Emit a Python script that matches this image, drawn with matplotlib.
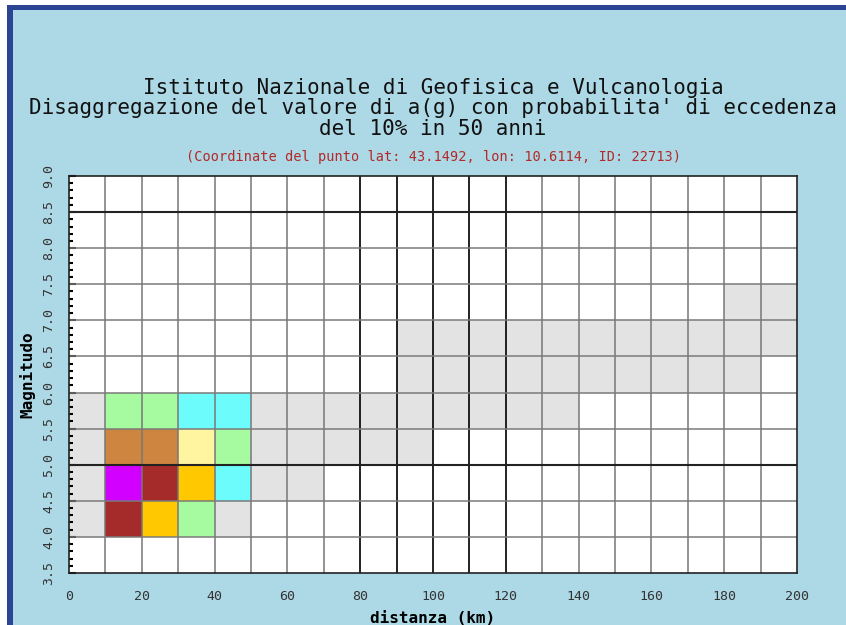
import matplotlib.pyplot as plt
from matplotlib.patches import Rectangle
from matplotlib.ticker import MultipleLocator

# grey (low contribution) band per magnitude row: distance start / end
grey_mag = [4.0, 4.5, 5.0, 5.5, 6.0, 6.5, 7.0]
grey_from = [0, 0, 0, 0, 90, 90, 180]
grey_to = [50, 70, 100, 140, 190, 200, 200]

# coloured cells (lower-left corner of each 10 km x 0.5 bin)
cell_dist = [10, 20, 30,
             10, 20, 30, 40,
             10, 20, 30, 40,
             10, 20, 30, 40]
cell_mag = [4.0, 4.0, 4.0,
            4.5, 4.5, 4.5, 4.5,
            5.0, 5.0, 5.0, 5.0,
            5.5, 5.5, 5.5, 5.5]
cell_color = ['#a52a2a', '#ffc800', '#a6fba0',
              '#d200ff', '#a52a2a', '#ffc800', '#6cfcfc',
              '#cd853f', '#cd853f', '#fff5a0', '#a6fba0',
              '#a6fba0', '#a6fba0', '#6cfcfc', '#6cfcfc']

x_ticks = list(range(0, 201, 20))
y_ticks = [3.5, 4.0, 4.5, 5.0, 5.5, 6.0, 6.5, 7.0, 7.5, 8.0, 8.5, 9.0]

mono = 'DejaVu Sans Mono'
bg = '#add8e6'

fig = plt.figure(figsize=(8.46, 6.25), dpi=100, facecolor=bg)

# dark blue frame on top / left like the web page border
fig.patches.append(Rectangle((0, 0), 7 / 846, 1, transform=fig.transFigure,
                             facecolor='white', edgecolor='none', zorder=0))
fig.patches.append(Rectangle((0, 1 - 5 / 625), 1, 5 / 625, transform=fig.transFigure,
                             facecolor='white', edgecolor='none', zorder=0))
fig.patches.append(Rectangle((7 / 846, 0), 6 / 846, 1 - 5 / 625, transform=fig.transFigure,
                             facecolor='#2b4594', edgecolor='none', zorder=1))
fig.patches.append(Rectangle((7 / 846, 1 - 10 / 625), 1, 5 / 625, transform=fig.transFigure,
                             facecolor='#2b4594', edgecolor='none', zorder=1))

ax = fig.add_axes([69 / 846, 52 / 625, 728 / 846, 397 / 625])
ax.set_facecolor('white')

for m, a, b in zip(grey_mag, grey_from, grey_to):
    ax.bar(a, 0.5, width=b - a, bottom=m, align='edge', color='#e3e3e3',
           linewidth=0, zorder=1)
ax.bar(cell_dist, [0.5] * len(cell_dist), width=10, bottom=cell_mag,
       align='edge', color=cell_color, linewidth=0, zorder=1)

# cell grid
for x in range(10, 200, 10):
    dark = 80 <= x <= 120
    ax.axvline(x, color='#111111' if dark else '#777777',
               lw=1.3 if dark else 1.1, zorder=2)
for y in y_ticks[1:-1]:
    dark = y in (5.0, 8.5)
    ax.axhline(y, color='#222222' if dark else '#7a7a7a',
               lw=1.5 if dark else 1.1, zorder=2)

ax.set_xlim(0, 200)
ax.set_ylim(3.5, 9.0)
ax.set_xticks(x_ticks)
ax.set_xticklabels([str(v) for v in x_ticks], family=mono, fontsize=9.5, color='#333333')
ax.set_yticks(y_ticks)
ax.set_yticklabels(['%.1f' % v for v in y_ticks], family=mono, fontsize=9.5,
                   color='#333333', rotation=90, va='center')
ax.yaxis.set_minor_locator(MultipleLocator(0.1))
ax.tick_params(axis='x', length=0, pad=12)
ax.tick_params(axis='y', which='major', direction='in', length=5, width=1.5, pad=10)
ax.tick_params(axis='y', which='minor', direction='in', length=3, width=1.5)
for s in ax.spines.values():
    s.set_color('#222222')
    s.set_linewidth(1.2)
    s.set_zorder(3)

ax.set_xlabel('distanza (km)', family=mono, fontsize=11.5, fontweight='bold', labelpad=6)
ax.set_ylabel('Magnitudo', family=mono, fontsize=11.5, fontweight='bold', labelpad=5)

cx = (69 + 797) / 2 / 846
fig.text(cx, 1 - 88 / 625, 'Istituto Nazionale di Geofisica e Vulcanologia',
         family=mono, fontsize=15, ha='center', va='center', color='#111111')
fig.text(cx, 1 - 108 / 625, "Disaggregazione del valore di a(g) con probabilita' di eccedenza",
         family=mono, fontsize=15, ha='center', va='center', color='#111111')
fig.text(cx, 1 - 129 / 625, 'del 10% in 50 anni',
         family=mono, fontsize=15, ha='center', va='center', color='#111111')
fig.text(cx, 1 - 157 / 625, '(Coordinate del punto lat: 43.1492, lon: 10.6114, ID: 22713)',
         family=mono, fontsize=9.8, ha='center', va='center', color='#b22a2a')

plt.savefig('out.png', dpi=100, facecolor=bg)
